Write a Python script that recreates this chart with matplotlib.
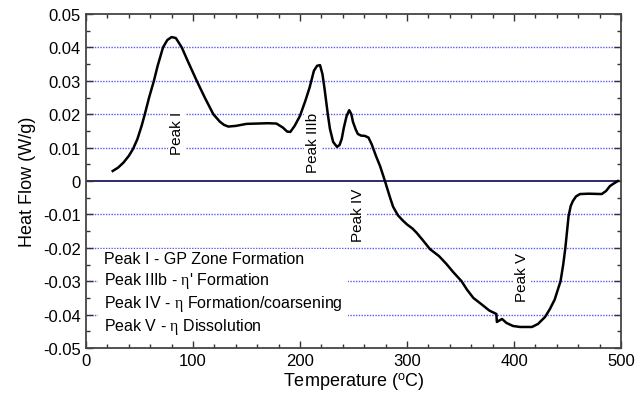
import matplotlib
matplotlib.use("Agg")
import matplotlib.pyplot as plt
from matplotlib.ticker import MultipleLocator

plt.rcParams['font.family'] = ['Liberation Sans', 'DejaVu Sans']
plt.rcParams['mathtext.fontset'] = 'custom'
plt.rcParams['mathtext.rm'] = 'Liberation Sans'
plt.rcParams['mathtext.it'] = 'Liberation Serif'

# DSC trace
temp = [25, 30, 35, 40, 44, 48, 52, 55, 59, 63.5, 67, 72, 76, 80, 84, 89.5,
        95, 103.5, 111, 119, 125, 129, 133, 140, 150, 160, 170, 178, 184, 188,
        191, 195, 200, 205, 209, 213, 216, 218.7, 221, 223, 226, 228, 231,
        234.6, 237, 239, 241, 243.6, 246, 248, 249.5, 252, 254, 257, 260.7,
        264, 267, 271, 274.8, 279.4, 284, 287, 291.6, 296, 300, 305, 309, 315,
        321.5, 330, 337, 343, 351, 356, 362, 370, 377, 383.5, 384, 385, 388.8,
        393, 399, 405.6, 416.8, 422.4, 429, 433.6, 438, 443.5, 446, 448, 451,
        453, 455, 458, 461.7, 470, 482, 486, 489.7, 493, 497]
heat = [0.0030, 0.0040, 0.0055, 0.0075, 0.0096, 0.0125, 0.0165, 0.0200,
        0.0250, 0.0300, 0.0345, 0.0400, 0.0422, 0.0431, 0.0428, 0.0400,
        0.0360, 0.0300, 0.0250, 0.0200, 0.0178, 0.0168, 0.0163, 0.0165,
        0.0171, 0.0172, 0.0173, 0.0172, 0.0160, 0.0148, 0.0147, 0.0165,
        0.0195, 0.0240, 0.0280, 0.0330, 0.0345, 0.0347, 0.0320, 0.0275,
        0.0200, 0.0156, 0.0117, 0.0102, 0.0108, 0.0126, 0.0160, 0.0195,
        0.0212, 0.0200, 0.0177, 0.0155, 0.0141, 0.0136, 0.0135, 0.0130,
        0.0110, 0.0075, 0.0045, 0.0, -0.0048, -0.0077, -0.0103, -0.0118,
        -0.0130, -0.0142, -0.0155, -0.0178, -0.0204, -0.0225, -0.0249,
        -0.0272, -0.0300, -0.0325, -0.0350, -0.0370, -0.0388, -0.0398,
        -0.0422, -0.0420, -0.0413, -0.0425, -0.0434, -0.0437, -0.0437,
        -0.0428, -0.0407, -0.0383, -0.0355, -0.0300, -0.0250, -0.0200,
        -0.0105, -0.0075, -0.0060, -0.0046, -0.0039, -0.0038, -0.0039,
        -0.0030, -0.0015, -0.0008, 0.0]

grid_levels = [0.04, 0.03, 0.02, 0.01, -0.01, -0.02, -0.03, -0.04]

peak_labels = ["Peak I", "Peak IIIb", "Peak IV", "Peak V"]
peak_x = [85, 212, 254, 407.5]
peak_y = [0.0147, 0.0117, -0.0100, -0.0287]

legend_lines = ["Peak I - GP Zone Formation",
                r"Peak IIIb - $\eta$' Formation",
                r"Peak IV - $\eta$ Formation/coarsening",
                r"Peak V - $\eta$ Dissolution"]

fig = plt.figure(figsize=(6.43, 4.02), dpi=100)
ax = fig.add_axes([0.1337, 0.1318, 0.8321, 0.8309])

for lv in grid_levels:
    ax.axhline(lv, color='#5a5af0', linestyle=(0, (1, 1)), linewidth=1.0,
               zorder=1)
ax.axhline(0, color='#1a1a60', linewidth=1.3, zorder=1)

ax.plot(temp, heat, color='black', linewidth=1.8, zorder=4)

for lab, px, py in zip(peak_labels, peak_x, peak_y):
    ax.text(px, py, lab, rotation=90, ha='center', va='center', fontsize=11,
            zorder=3, bbox=dict(facecolor='white', edgecolor='none', pad=1.5))

ax.text(16.5, -0.0337, "\n".join(legend_lines), ha='left', va='center',
        fontsize=11.5, linespacing=1.22, zorder=3,
        bbox=dict(facecolor='white', edgecolor='none', pad=4))

ax.set_xlim(0, 500)
ax.set_ylim(-0.05, 0.05)
ax.xaxis.set_major_locator(MultipleLocator(100))
ax.xaxis.set_minor_locator(MultipleLocator(20))
ax.yaxis.set_major_locator(MultipleLocator(0.01))
ax.yaxis.set_minor_locator(MultipleLocator(0.005))
ax.tick_params(which='both', direction='in', top=True, right=True,
               labelsize=12, color='#333333')
ax.tick_params(which='major', length=5, width=1)
ax.tick_params(which='minor', length=3, width=1)
ax.yaxis.set_major_formatter(plt.FuncFormatter(
    lambda v, p: "0" if abs(v) < 1e-9 else ("%.2f" % v)))
for s in ax.spines.values():
    s.set_color('#444444')
    s.set_linewidth(1.3)

ax.set_xlabel(r"Temperature ($^{\mathrm{o}}$C)", fontsize=13, labelpad=2)
ax.set_ylabel("Heat Flow (W/g)", fontsize=13, labelpad=5)

fig.savefig("out.png", dpi=100)
